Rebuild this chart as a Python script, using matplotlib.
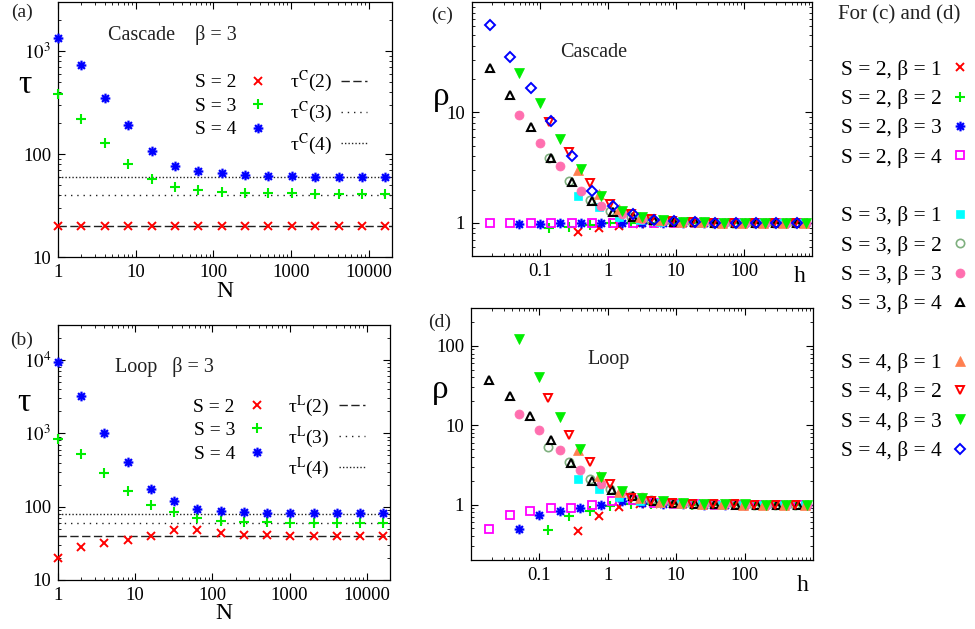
import matplotlib
matplotlib.use("Agg")
import matplotlib.pyplot as plt
from matplotlib.lines import Line2D
from matplotlib.path import Path
from matplotlib.ticker import FixedLocator, FixedFormatter, NullFormatter

plt.rcParams['font.family'] = ['Liberation Serif', 'DejaVu Serif']
plt.rcParams['mathtext.fontset'] = 'stix'

# ---------------- data: panels (a), (b) ----------------
N = [1, 2, 4, 8, 16, 32, 64, 128, 256, 512, 1024, 2048, 4096, 8192, 16384]

tauC_S2 = [20, 20, 20, 20, 20, 20, 20, 20, 20, 20, 20, 20, 20, 20, 20]
tauC_S3 = [384, 219, 129, 80, 57, 47.5, 44.7, 42.5, 41.6, 41.6, 41.6, 40.8, 40.8, 40.8, 40.8]
tauC_S4 = [1350, 740, 350, 190, 106, 77, 68.6, 65, 62.7, 61.7, 61.5, 60.5, 60.5, 60.5, 60.5]
tauC_lim = [20, 40, 60]

tauL_S2 = [19.8, 28.6, 32.4, 35.3, 39.2, 47.4, 47.4, 43.6, 41, 41, 40, 40, 39.2, 39.2, 39.2]
tauL_S3 = [828, 515, 289, 162, 106, 84.6, 70, 64.3, 61.7, 61.7, 60.5, 60.5, 60, 60, 60]
tauL_S4 = [9300, 3240, 1020, 405, 176, 118, 93, 86, 83.5, 82, 82, 82, 81, 81, 81]
tauL_lim = [40, 60, 80]

# ---------------- data: panels (c), (d) ----------------
h_b1 = [0.368, 0.736, 1.47, 2.94, 5.89, 11.8, 23.5, 47.1, 94.2, 188, 377, 753]
h_b2 = [0.135, 0.271, 0.541, 1.08, 2.17, 4.33, 8.66, 17.3, 34.6, 69.3, 139, 277, 554]
h_b3 = [0.0498, 0.0996, 0.199, 0.398, 0.797, 1.59, 3.19, 6.37, 12.7, 25.5, 51.0, 102, 204, 408, 816]
h_b4 = [0.0183, 0.0366, 0.0733, 0.147, 0.293, 0.586, 1.17, 2.34, 4.69, 9.38, 18.8, 37.5, 75.0, 150, 300, 600]

# cascade
rhoC_S2b1 = [0.83, 0.89, 0.94, 0.98, 0.99, 1.0, 1.0, 1.0, 1.0, 1.0, 1.0, 1.0]
rhoC_S2b2 = [0.89, 0.92, 0.96, 0.99, 1.0, 1.0, 1.0, 1.0, 1.0, 1.0, 1.0, 1.0, 1.0]
rhoC_S2b3 = [0.97, 0.98, 0.99, 1.0, 1.0, 0.99, 1.0, 1.0, 1.0, 1.0, 1.0, 1.0, 1.0, 1.0, 1.0]
rhoC_S2b4 = [1.0, 1.0, 1.0, 0.99, 1.0, 0.99, 1.0, 0.99, 1.0, 1.0, 1.0, 0.99, 1.0, 0.99, 0.99, 1.0]
rhoC_S3b1 = [1.76, 1.38, 1.13, 1.05, 1.02, 1.01, 1.0, 1.0, 1.0, 1.0, 1.0, 1.0]
rhoC_S3b2 = [3.87, 2.41, 1.62, 1.29, 1.13, 1.06, 1.03, 1.01, 1.0, 1.0, 1.0, 1.0, 1.0]
rhoC_S3b3 = [9.4, 5.3, 3.25, 1.95, 1.41, 1.2, 1.08, 1.04, 1.02, 1.01, 1.0, 1.0, 1.0, 1.0, 1.0]
rhoC_S3b4 = [25, 14.3, 7.35, 3.9, 2.36, 1.58, 1.26, 1.12, 1.05, 1.02, 1.01, 1.0, 1.0, 1.0, 1.0, 1.0]
rhoC_S4b1 = [3.0, 1.82, 1.33, 1.13, 1.05, 1.02, 1.01, 1.0, 1.0, 1.0, 1.0, 1.0]
rhoC_S4b2 = [8.2, 4.35, 2.28, 1.48, 1.2, 1.08, 1.03, 1.01, 1.0, 1.0, 1.0, 1.0, 1.0]
rhoC_S4b3 = [22.8, 12.2, 5.76, 3.08, 1.76, 1.27, 1.12, 1.05, 1.02, 1.01, 1.0, 1.0, 1.0, 1.0, 1.0]
rhoC_S4b4 = [62, 32, 16.6, 8.3, 4.0, 1.95, 1.43, 1.2, 1.06, 1.03, 1.01, 1.0, 1.0, 1.0, 1.0, 1.0]

# loop
rhoL_S2b1 = [0.46, 0.71, 0.94, 1.02, 1.02, 1.01, 1.0, 1.0, 1.0, 1.0, 1.0, 1.0]
rhoL_S2b2 = [0.48, 0.71, 0.82, 0.97, 1.03, 1.02, 1.01, 1.0, 1.0, 1.0, 1.0, 1.0, 1.0]
rhoL_S2b3 = [0.49, 0.73, 0.84, 0.90, 0.99, 1.1, 1.05, 1.02, 1.01, 1.0, 1.0, 1.0, 1.0, 1.0, 1.0]
rhoL_S2b4 = [0.49, 0.74, 0.84, 0.90, 0.91, 1.0, 1.12, 1.15, 1.06, 1.03, 1.01, 1.0, 1.0, 1.0, 1.0, 1.0]
rhoL_S3b1 = [2.1, 1.57, 1.24, 1.1, 1.05, 1.02, 1.01, 1.0, 1.0, 1.0, 1.0, 1.0]
rhoL_S3b2 = [5.3, 3.48, 2.1, 1.55, 1.3, 1.13, 1.06, 1.03, 1.02, 1.01, 1.0, 1.0, 1.0]
rhoL_S3b3 = [13.8, 8.8, 4.9, 2.75, 1.79, 1.46, 1.24, 1.1, 1.05, 1.02, 1.01, 1.0, 1.0, 1.0, 1.0]
rhoL_S3b4 = [37.4, 23.5, 13.2, 6.5, 3.35, 2.0, 1.53, 1.3, 1.12, 1.05, 1.03, 1.01, 1.0, 1.0, 1.0, 1.0]
rhoL_S4b1 = [4.8, 2.3, 1.46, 1.2, 1.08, 1.04, 1.02, 1.01, 1.0, 1.0, 1.0, 1.0]
rhoL_S4b2 = [21.8, 7.6, 3.4, 1.82, 1.2, 1.1, 1.05, 1.03, 1.02, 1.01, 1.0, 1.0, 1.0]
rhoL_S4b3 = [121, 40.7, 12.8, 5.0, 2.2, 1.47, 1.21, 1.1, 1.05, 1.03, 1.02, 1.01, 1.0, 1.0, 1.0]

legend_labels = ['S = 2, β = 1', 'S = 2, β = 2', 'S = 2, β = 3', 'S = 2, β = 4',
                 'S = 3, β = 1', 'S = 3, β = 2', 'S = 3, β = 3', 'S = 3, β = 4',
                 'S = 4, β = 1', 'S = 4, β = 2', 'S = 4, β = 3', 'S = 4, β = 4']

# ---------------- styles ----------------
_d = 0.7071
AST = Path([(-1, 0), (1, 0), (0, -1), (0, 1), (-_d, -_d), (_d, _d), (-_d, _d), (_d, -_d)],
           [Path.MOVETO, Path.LINETO] * 4)
styles = [
    dict(marker='x', color='#FF0000', mfc='#FF0000', mec='#FF0000', ms=6, mew=1.4),
    dict(marker='+', color='#00EE00', mfc='#00EE00', mec='#00EE00', ms=7, mew=1.5),
    dict(marker=AST, color='#0000FF', mfc='none', mec='#0000FF', ms=7, mew=1.6),
    dict(marker='s', color='#FF00FF', mfc='none', mec='#FF00FF', ms=6, mew=1.3),
    dict(marker='s', color='#00FFFF', mfc='#00FFFF', mec='#00FFFF', ms=6, mew=0.5),
    dict(marker='o', color='#7FB07F', mfc='none', mec='#7FB07F', ms=6, mew=1.2),
    dict(marker='o', color='#FF6FAF', mfc='#FF6FAF', mec='#FF6FAF', ms=6.5, mew=0.5),
    dict(marker='^', color='#000000', mfc='none', mec='#000000', ms=5.5, mew=1.5),
    dict(marker='^', color='#FF7F50', mfc='#FF7F50', mec='#FF7F50', ms=6.5, mew=0.5),
    dict(marker='v', color='#FF0000', mfc='none', mec='#FF0000', ms=6, mew=1.4),
    dict(marker='v', color='#00EE00', mfc='#00EE00', mec='#00EE00', ms=6.5, mew=0.5),
    dict(marker='D', color='#0000FF', mfc='none', mec='#0000FF', ms=5, mew=1.4),
]

fig = plt.figure(figsize=(9.75, 6.29), dpi=100)
W, H = 975.0, 629.0


def add_ax(l, r, t, b):
    return fig.add_axes([l / W, 1 - b / H, (r - l) / W, (b - t) / H])


def style_ax(ax):
    ax.set_xscale('log')
    ax.set_yscale('log')
    ax.tick_params(which='both', direction='in', top=True, right=True, labelsize=13.5, pad=5)
    ax.tick_params(which='major', length=5, width=0.8)
    ax.tick_params(which='minor', length=2.5, width=0.6)
    for s in ax.spines.values():
        s.set_linewidth(0.9)


axA = add_ax(58, 392, 2, 257)
axB = add_ax(58, 390, 325, 580)
axC = add_ax(472, 812, 2, 256)
axD = add_ax(471, 813, 308, 560)
for ax in (axA, axB, axC, axD):
    style_ax(ax)

line_styles = [(0, (6, 2.5)), (0, (1, 3.5)), (0, (1, 1.5))]

# ---- panel (a)
for vals, st in zip([tauC_S2, tauC_S3, tauC_S4], [styles[0], styles[1], styles[2]]):
    axA.plot(N, vals, ls='none', clip_on=False, zorder=3, **st)
for v, ls in zip(tauC_lim, line_styles):
    axA.axhline(v, color='#222222', lw=1.0, ls=ls, zorder=2)
axA.set_xlim(1, 2e4)
axA.set_ylim(10, 3000)

# ---- panel (b)
for vals, st in zip([tauL_S2, tauL_S3, tauL_S4], [styles[0], styles[1], styles[2]]):
    axB.plot(N, vals, ls='none', clip_on=False, zorder=3, **st)
for v, ls in zip(tauL_lim, line_styles):
    axB.axhline(v, color='#222222', lw=1.0, ls=ls, zorder=2)
axB.set_xlim(1, 2e4)
axB.set_ylim(10, 3e4)

for ax in (axA, axB):
    ax.xaxis.set_major_locator(FixedLocator([1, 10, 100, 1000, 10000]))
    ax.xaxis.set_major_formatter(FixedFormatter(['1', '10', '100', '1000', '10000']))
    ax.xaxis.set_minor_formatter(NullFormatter())
    ax.yaxis.set_minor_formatter(NullFormatter())
axA.yaxis.set_major_locator(FixedLocator([10, 100, 1000]))
axA.yaxis.set_major_formatter(FixedFormatter(['10', '100', r'$10^3$']))
axB.yaxis.set_major_locator(FixedLocator([10, 100, 1000, 10000]))
axB.yaxis.set_major_formatter(FixedFormatter(['10', '100', r'$10^3$', r'$10^4$']))

# legends for (a), (b)
for ax, sup in ((axA, 'C'), (axB, 'L')):
    hs = [Line2D([], [], ls='none', **styles[0]),
          Line2D([], [], ls='none', **styles[1]),
          Line2D([], [], ls='none', **styles[2])]
    hl = [Line2D([], [], color='#222222', lw=1.0, ls=ls) for ls in line_styles]
    labs = ['S = 2', 'S = 3', 'S = 4'] + [r'τ$^{\mathrm{%s}}$(%d)' % (sup, s) for s in (2, 3, 4)]
    ax.legend(hs + hl, labs, ncol=2, markerfirst=False, frameon=False, fontsize=14,
              loc='upper right', bbox_to_anchor=(0.965, 0.79 if sup == 'C' else 0.785),
              handlelength=1.3, handletextpad=0.5, columnspacing=0.95, labelspacing=0.3,
              borderpad=0.2)

axA.text(0.15, 0.87, 'Cascade    β = 3', transform=axA.transAxes, fontsize=14.5,
         ha='left', va='center', color='#222222')
axB.text(0.172, 0.835, 'Loop   β = 3', transform=axB.transAxes, fontsize=14.5,
         ha='left', va='center', color='#222222')

for ax in (axA, axB):
    ax.set_ylabel('τ', rotation=0, fontsize=24, ha='center', va='center')
    ax.set_xlabel('N', fontsize=17)
axA.yaxis.set_label_coords(-0.099, 0.675)
axB.yaxis.set_label_coords(-0.102, 0.694)
axA.xaxis.set_label_coords(0.5, -0.094)
axB.xaxis.set_label_coords(0.5, -0.09)

# ---- panels (c), (d)
hlists = [h_b1, h_b2, h_b3, h_b4] * 3
rhoC = [rhoC_S2b1, rhoC_S2b2, rhoC_S2b3, rhoC_S2b4,
        rhoC_S3b1, rhoC_S3b2, rhoC_S3b3, rhoC_S3b4,
        rhoC_S4b1, rhoC_S4b2, rhoC_S4b3, rhoC_S4b4]
rhoL = [rhoL_S2b1, rhoL_S2b2, rhoL_S2b3, rhoL_S2b4,
        rhoL_S3b1, rhoL_S3b2, rhoL_S3b3, rhoL_S3b4,
        rhoL_S4b1, rhoL_S4b2, rhoL_S4b3]

for i, vals in enumerate(rhoC):
    axC.plot(hlists[i], vals, ls='none', zorder=3, **styles[i])
for i, vals in enumerate(rhoL):
    axD.plot(hlists[i], vals, ls='none', zorder=3, **styles[i])

axC.set_xlim(0.01, 1000)
axC.set_ylim(0.5, 100)
axD.set_xlim(0.01, 1000)
axD.set_ylim(0.2, 300)
for ax in (axC, axD):
    ax.xaxis.set_major_locator(FixedLocator([0.1, 1, 10, 100]))
    ax.xaxis.set_major_formatter(FixedFormatter(['0.1', '1', '10', '100']))
    ax.xaxis.set_minor_formatter(NullFormatter())
    ax.yaxis.set_minor_formatter(NullFormatter())
    ax.set_ylabel('ρ', rotation=0, fontsize=24, ha='center', va='center')
    ax.set_xlabel('h', fontsize=17)
axC.yaxis.set_major_locator(FixedLocator([1, 10]))
axC.yaxis.set_major_formatter(FixedFormatter(['1', '10']))
axD.yaxis.set_major_locator(FixedLocator([1, 10, 100]))
axD.yaxis.set_major_formatter(FixedFormatter(['1', '10', '100']))
axC.yaxis.set_label_coords(-0.091, 0.626)
axD.yaxis.set_label_coords(-0.091, 0.675)
axC.xaxis.set_label_coords(0.965, -0.04)
axD.xaxis.set_label_coords(0.97, -0.058)

axC.text(0.259, 0.80, 'Cascade', transform=axC.transAxes, fontsize=14.5,
         ha='left', va='center', color='#222222')
axD.text(0.339, 0.794, 'Loop', transform=axD.transAxes, fontsize=14.5,
         ha='left', va='center', color='#222222')

# panel labels
for txt, x, y in (('(a)', 22, 12), ('(b)', 22, 340), ('(c)', 442, 15), ('(d)', 440, 322)):
    fig.text(x / W, 1 - y / H, txt, fontsize=14, ha='center', va='center', color='#222222')

# right legend
fig.text(899 / W, 1 - 15 / H, 'For (c) and (d)', fontsize=15, ha='center', va='center',
         color='#222222')
blank = Line2D([], [], ls='none', marker='none')
handles = []
labels = []
for g in range(3):
    for j in range(4):
        k = g * 4 + j
        handles.append(Line2D([], [], ls='none', **styles[k]))
        labels.append(legend_labels[k])
    if g < 2:
        handles.append(blank)
        labels.append(' ')
fig.legend(handles, labels, loc='upper right', bbox_to_anchor=(979 / W, 1 - 49 / H),
           markerfirst=False, frameon=False, fontsize=15.5, handlelength=0.8,
           handletextpad=0.44, labelspacing=0.43, borderpad=0.0)

fig.savefig('out.png', dpi=100)
